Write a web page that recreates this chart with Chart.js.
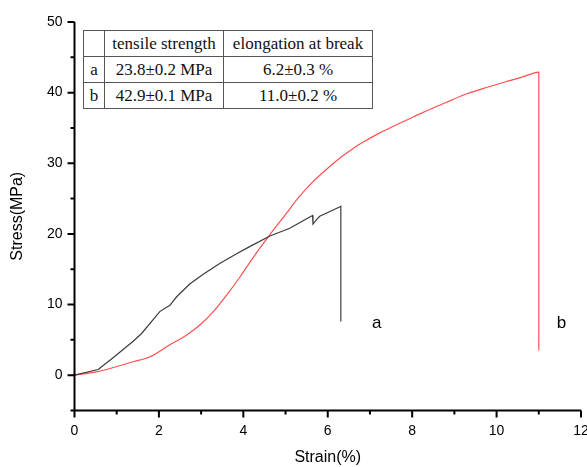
<!DOCTYPE html>
<html>
<head>
<meta charset="utf-8">
<script src="https://cdn.jsdelivr.net/npm/chart.js@4"></script>
<style>
    body { margin: 0; background: #fff; }
    #wrap { position: relative; width: 587px; height: 467px; }
    #props {
        position: absolute; left: 83px; top: 30px;
        border-collapse: collapse; background: #fff;
        font-family: "Liberation Serif", "Times New Roman", serif; font-size: 17px; color: #111;
    }
    #props td { border: 1px solid #555; padding: 0 3px; height: 25px; text-align: center; white-space: nowrap; }
</style>
</head>
<body>
<div id="wrap">
    <canvas id="myChart" width="587" height="467"></canvas>
    <table id="props"></table>
</div>
<script>
// curve a (black)
let strainA = [0, 0.56, 0.9, 1.39, 1.59, 2.02, 2.26, 2.42, 2.73, 3.05, 3.44, 3.84, 4.15, 4.63, 5.1, 5.64, 5.65, 5.73, 5.81, 6.28, 6.31, 6.31];
let stressA = [0, 0.8, 2.4, 4.8, 5.9, 9.0, 9.9, 11.1, 12.9, 14.3, 15.8, 17.2, 18.2, 19.7, 20.8, 22.6, 21.4, 22.0, 22.5, 23.8, 23.9, 7.6];
// curve b (red)
let strainB = [0, 0.52, 1.39, 1.79, 2.26, 2.66, 2.97, 3.29, 3.6, 3.92, 4.19, 4.63, 5.02, 5.3, 5.65, 6.0, 6.28, 6.6, 6.84, 7.2, 7.47, 7.9, 8.26, 8.8, 9.28, 9.8, 10.31, 10.6, 10.9, 11.0, 11.0];
let stressB = [0, 0.47, 1.9, 2.6, 4.3, 5.7, 7.1, 9.0, 11.3, 13.9, 16.3, 19.9, 22.9, 25.1, 27.4, 29.3, 30.7, 32.1, 33.0, 34.2, 35.0, 36.2, 37.2, 38.6, 39.8, 40.8, 41.7, 42.2, 42.8, 42.9, 3.5];

let xTicks = [0, 1, 2, 3, 4, 5, 6, 7, 8, 9, 10, 11, 12];
let yTicks = [-5, 0, 5, 10, 15, 20, 25, 30, 35, 40, 45, 50];

let curveNames = ['a', 'b'];
let curveLabelPos = [[7.16, 7.4], [11.54, 7.4]];

let tableHead = ['', 'tensile strength', 'elongation at break'];
let tableRows = [
    ['a', '23.8\u00b10.2 MPa', '6.2\u00b10.3 %'],
    ['b', '42.9\u00b10.1 MPa', '11.0\u00b10.2 %']
];

function toPoints(xs, ys) {
    let pts = [];
    for (let i = 0; i < xs.length; i++) {
        pts.push({x: xs[i], y: ys[i]});
    }
    return pts;
}

// table of properties
let table = document.getElementById('props');
[tableHead].concat(tableRows).forEach(function (row, r) {
    let tr = document.createElement('tr');
    row.forEach(function (cell, c) {
        let td = document.createElement('td');
        td.textContent = cell;
        if (c === 0) td.style.width = '14px';
        if (c === 1) td.style.width = '112px';
        if (c === 2) td.style.width = '142px';
        tr.appendChild(td);
    });
    table.appendChild(tr);
});

// axis lines, ticks and curve labels
let axesPlugin = {
    id: 'axes',
    afterDraw(chart) {
        let ctx = chart.ctx;
        let a = chart.chartArea;
        let sx = chart.scales.x;
        let sy = chart.scales.y;
        ctx.save();
        ctx.strokeStyle = '#000';
        ctx.lineWidth = 2;
        ctx.beginPath();
        ctx.moveTo(a.left, a.top);
        ctx.lineTo(a.left, a.bottom);
        ctx.lineTo(a.right, a.bottom);
        xTicks.forEach(function (v) {
            let px = sx.getPixelForValue(v);
            let len = v % 2 === 0 ? 7 : 4;
            ctx.moveTo(px, a.bottom);
            ctx.lineTo(px, a.bottom + len);
        });
        yTicks.forEach(function (v) {
            let py = sy.getPixelForValue(v);
            let len = v % 10 === 0 ? 7 : 4;
            ctx.moveTo(a.left, py);
            ctx.lineTo(a.left - len, py);
        });
        ctx.stroke();

        ctx.fillStyle = '#000';
        ctx.font = '17px "Liberation Sans", Arial, sans-serif';
        ctx.textAlign = 'center';
        ctx.textBaseline = 'middle';
        curveNames.forEach(function (n, i) {
            ctx.fillText(n, sx.getPixelForValue(curveLabelPos[i][0]), sy.getPixelForValue(curveLabelPos[i][1]));
        });
        ctx.restore();
    }
};

let ctx = document.getElementById('myChart');
let myChart = new Chart(ctx, {
    type: 'scatter',
    data: {
        datasets: [{
            label: 'a',
            data: toPoints(strainA, stressA),
            showLine: true,
            borderColor: 'rgb(60, 60, 60)',
            borderWidth: 1.2,
            pointRadius: 0
        }, {
            label: 'b',
            data: toPoints(strainB, stressB),
            showLine: true,
            cubicInterpolationMode: 'monotone',
            borderColor: 'rgb(255, 80, 80)',
            borderWidth: 1.2,
            pointRadius: 0
        }]
    },
    options: {
        responsive: false,
        animation: false,
        layout: {padding: {top: 22, right: 6, left: 0, bottom: 0}},
        plugins: {legend: {display: false}, tooltip: {enabled: false}},
        scales: {
            x: {
                type: 'linear',
                min: 0,
                max: 12,
                grid: {display: false, drawTicks: false},
                border: {display: false},
                ticks: {
                    stepSize: 2,
                    padding: 12,
                    color: '#000',
                    font: {family: '"Liberation Sans", Arial, sans-serif', size: 14}
                },
                title: {
                    display: true,
                    text: 'Strain(%)',
                    color: '#000',
                    padding: {top: 0, bottom: 0},
                    font: {family: '"Liberation Sans", Arial, sans-serif', size: 16}
                },
                afterFit: function (scale) {
                    scale.height = 56.5;
                    scale.paddingLeft = 0;
                    scale.paddingRight = 0;
                }
            },
            y: {
                type: 'linear',
                min: -5,
                max: 50,
                grid: {display: false, drawTicks: false},
                border: {display: false},
                ticks: {
                    stepSize: 10,
                    padding: 12,
                    color: '#000',
                    font: {family: '"Liberation Sans", Arial, sans-serif', size: 14},
                    callback: function (v) { return v % 10 === 0 ? v : ''; }
                },
                afterBuildTicks: function (scale) {
                    scale.ticks = [0, 10, 20, 30, 40, 50].map(function (v) { return {value: v}; });
                },
                title: {
                    display: true,
                    text: 'Stress(MPa)',
                    color: '#000',
                    padding: {top: 8, bottom: 0},
                    font: {family: '"Liberation Sans", Arial, sans-serif', size: 16}
                },
                afterFit: function (scale) {
                    scale.width = 74.5;
                }
            }
        }
    },
    plugins: [axesPlugin]
});
</script>
</body>
</html>
